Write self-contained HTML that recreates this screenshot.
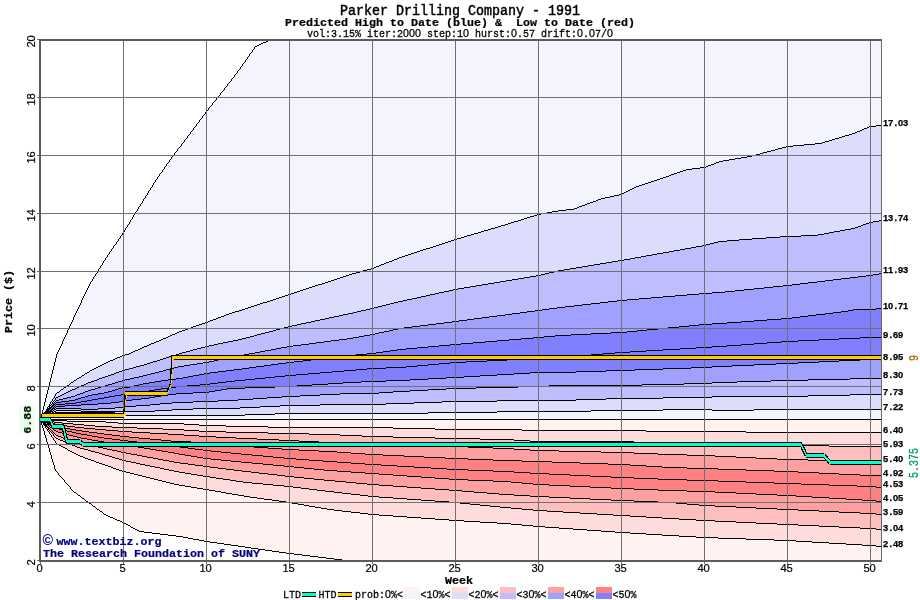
<!DOCTYPE html>
<html><head><meta charset="utf-8"><title>Parker Drilling Company - 1991</title>
<style>html,body{margin:0;padding:0;background:#fff;}body{width:920px;height:600px;overflow:hidden;font-family:"Liberation Mono",monospace;}</style></head>
<body>
<svg width="920" height="600" viewBox="0 0 920 600" style="display:block;will-change:transform">
<defs><clipPath id="cp"><rect x="40" y="40" width="842" height="521"/></clipPath></defs>
<rect width="920" height="600" fill="#fff"/>
<g clip-path="url(#cp)" shape-rendering="crispEdges">
<polygon points="40.0,419.2 56.6,355.0 73.2,318.0 89.8,284.0 106.4,257.0 123.0,232.0 139.6,206.5 156.2,179.5 172.8,156.5 189.4,134.0 206.0,111.5 222.6,91.0 239.2,69.0 255.8,46.3 271.0,39.5 881.5,39.5 881.5,419.2 40.0,419.2" fill="#f4f4ff"/>
<polygon points="40.0,419.2 56.6,393.0 73.2,381.9 89.8,371.0 106.4,362.5 123.0,355.6 127.0,354.0 145.0,346.5 164.5,338.0 180.0,331.5 206.0,322.0 230.0,313.5 240.0,310.0 289.0,294.5 350.0,274.5 372.0,268.7 400.0,257.0 455.0,239.4 506.0,224.0 538.0,214.1 560.0,210.5 572.0,209.6 602.0,198.1 621.0,194.4 637.0,186.0 655.0,180.8 687.0,169.4 704.0,167.3 720.0,161.0 750.0,156.1 787.0,146.4 820.0,143.6 853.0,133.8 870.0,126.2 881.5,125.4 881.5,419.2 40.0,419.2" fill="#dcdcfd"/>
<polygon points="40.0,419.2 56.6,397.5 73.2,389.6 89.8,382.2 106.4,376.0 123.0,370.2 127.0,369.0 145.0,364.2 164.5,358.0 180.0,353.8 206.0,346.7 230.0,341.5 240.0,339.3 289.0,326.3 350.0,313.0 372.0,308.2 400.0,301.0 455.0,289.0 538.0,275.1 560.0,270.4 621.0,260.2 704.0,245.2 720.0,241.7 745.0,239.5 787.0,236.2 815.0,235.2 853.0,228.0 870.0,222.6 881.5,220.6 881.5,419.2 40.0,419.2" fill="#bebeff"/>
<polygon points="40.0,419.2 56.6,400.5 73.2,396.3 89.8,390.2 106.4,385.0 123.0,380.4 127.0,379.5 145.0,375.2 164.5,370.5 180.0,366.9 206.0,362.2 230.0,357.5 289.0,346.8 350.0,338.0 372.0,334.1 400.0,328.5 455.0,321.5 538.0,310.2 560.0,307.9 621.0,300.4 704.0,293.5 720.0,292.2 787.0,285.2 870.0,275.5 881.5,273.1 881.5,419.2 40.0,419.2" fill="#a0a0ff"/>
<polygon points="40.0,419.2 56.6,402.5 73.2,400.2 89.8,395.5 106.4,392.0 123.0,387.9 127.0,387.0 145.0,383.2 164.5,380.0 180.0,378.1 206.0,373.3 230.0,370.5 289.0,362.7 350.0,355.5 372.0,353.2 400.0,349.6 455.0,344.2 538.0,337.5 560.0,335.2 621.0,332.0 704.0,324.5 720.0,323.0 787.0,318.4 845.0,311.9 855.0,309.0 870.0,309.0 881.5,308.3 881.5,419.2 40.0,419.2" fill="#8080ff"/>
<polygon points="40.0,419.2 56.6,404.5 73.2,403.0 89.8,400.3 106.4,397.5 123.0,394.5 127.0,394.0 145.0,391.0 164.5,388.5 180.0,386.9 206.0,384.2 230.0,381.1 289.0,375.1 350.0,370.5 372.0,368.2 400.0,367.1 455.0,362.1 538.0,358.3 560.0,357.3 621.0,352.9 704.0,347.4 720.0,346.4 787.0,341.5 870.0,337.9 881.5,337.6 881.5,419.2 40.0,419.2" fill="#8080ff"/>
<polygon points="40.0,419.2 56.6,406.5 73.2,405.5 89.8,404.8 106.4,403.0 123.0,401.0 127.0,400.5 145.0,398.2 164.5,395.5 180.0,393.8 206.0,392.6 230.0,388.9 289.0,386.0 350.0,382.5 372.0,381.3 400.0,380.2 455.0,377.1 538.0,372.9 560.0,372.0 621.0,370.0 704.0,367.2 720.0,366.2 787.0,363.0 870.0,359.6 881.5,359.3 881.5,419.2 40.0,419.2" fill="#a0a0ff"/>
<polygon points="40.0,419.2 56.6,408.5 73.2,408.3 89.8,409.0 106.4,408.3 123.0,407.0 127.0,406.2 145.0,405.0 164.5,403.5 180.0,402.5 206.0,401.4 230.0,400.2 289.0,396.4 350.0,393.5 372.0,393.0 400.0,391.0 455.0,388.2 538.0,386.5 560.0,385.5 621.0,385.0 704.0,383.2 720.0,382.7 787.0,380.6 870.0,378.3 881.5,378.1 881.5,419.2 40.0,419.2" fill="#bebeff"/>
<polygon points="40.0,419.2 56.6,410.5 73.2,410.5 89.8,411.2 106.4,411.5 123.0,411.4 127.0,411.2 145.0,411.2 164.5,410.0 180.0,409.4 206.0,408.4 230.0,408.0 289.0,405.2 350.0,404.3 372.0,404.1 400.0,403.1 455.0,401.3 538.0,400.6 560.0,400.3 621.0,398.9 704.0,397.1 720.0,396.2 787.0,396.0 870.0,394.6 881.5,394.6 881.5,419.2 40.0,419.2" fill="#dcdcfd"/>
<polygon points="40.0,419.2 56.6,412.0 73.2,412.5 89.8,412.8 106.4,412.8 123.0,413.0 127.0,415.2 145.0,415.2 164.5,415.2 180.0,415.0 206.0,415.4 230.0,415.1 289.0,413.7 350.0,413.5 372.0,413.6 400.0,413.5 455.0,412.1 538.0,411.5 560.0,411.2 621.0,410.9 704.0,409.9 720.0,410.3 787.0,409.7 870.0,409.5 881.5,409.4 881.5,419.2 40.0,419.2" fill="#f4f4ff"/>
<polygon points="40.0,419.5 55.8,470.2 73.5,491.0 88.1,502.5 106.8,515.0 123.5,522.9 139.1,531.7 180.0,536.7 206.0,541.1 289.0,553.5 346.3,560.5 881.5,560.5 881.5,419.5 40.0,419.5" fill="#fff2f0"/>
<polygon points="40.0,419.5 56.6,443.7 78.0,455.2 100.0,463.1 123.0,471.3 176.0,484.1 206.0,489.5 246.0,496.8 289.0,502.9 329.0,509.6 372.0,514.5 455.0,520.2 505.0,523.4 538.0,526.9 621.0,532.2 670.0,535.3 704.0,537.4 787.0,540.0 870.0,545.0 881.5,546.5 881.5,419.5 40.0,419.5" fill="#ffdcdc"/>
<polygon points="40.0,419.5 56.6,438.0 78.0,447.5 100.0,453.9 123.0,460.4 176.0,471.8 206.0,476.5 246.0,482.7 289.0,486.3 329.0,491.4 372.0,496.3 455.0,502.9 505.0,507.4 538.0,510.7 621.0,515.9 670.0,518.0 704.0,520.9 787.0,524.2 870.0,528.9 881.5,529.8 881.5,419.5 40.0,419.5" fill="#ffbebe"/>
<polygon points="40.0,419.5 56.6,435.0 78.0,443.5 100.0,447.7 123.0,452.6 176.0,462.4 206.0,466.4 246.0,471.8 289.0,476.5 329.0,480.2 372.0,484.0 455.0,490.5 505.0,494.2 538.0,496.6 621.0,500.4 670.0,502.9 704.0,505.0 787.0,509.2 870.0,513.4 881.5,514.4 881.5,419.5 40.0,419.5" fill="#ffa0a0"/>
<polygon points="40.0,419.5 56.6,431.0 78.0,437.5 100.0,441.0 123.0,444.5 176.0,453.8 206.0,458.5 246.0,462.7 289.0,466.3 329.0,470.3 372.0,473.9 455.0,479.2 505.0,481.7 538.0,484.3 621.0,488.2 670.0,490.0 704.0,491.2 787.0,495.1 870.0,500.1 881.5,501.0 881.5,419.5 40.0,419.5" fill="#ff8080"/>
<polygon points="40.0,419.5 56.6,428.1 78.0,433.0 100.0,437.0 123.0,440.5 176.0,446.8 206.0,450.3 246.0,454.6 289.0,458.5 329.0,461.8 372.0,464.5 455.0,469.4 505.0,471.2 538.0,473.2 621.0,477.0 670.0,479.3 704.0,480.3 787.0,483.0 870.0,486.3 881.5,487.1 881.5,419.5 40.0,419.5" fill="#ff8080"/>
<polygon points="40.0,419.5 56.6,426.2 78.0,430.0 100.0,433.0 123.0,436.5 176.0,441.3 206.0,442.7 246.0,446.4 289.0,449.1 329.0,451.5 372.0,454.2 455.0,458.4 505.0,460.1 538.0,461.2 621.0,464.7 670.0,467.2 704.0,468.3 787.0,471.4 870.0,475.1 881.5,475.9 881.5,419.5 40.0,419.5" fill="#ffa0a0"/>
<polygon points="40.0,419.5 56.6,424.3 78.0,427.0 100.0,429.0 123.0,431.5 176.0,434.3 206.0,436.3 246.0,438.9 289.0,440.5 329.0,442.1 372.0,443.5 455.0,446.8 505.0,448.8 538.0,450.3 621.0,452.5 670.0,454.2 704.0,455.3 787.0,459.1 870.0,461.5 881.5,462.0 881.5,419.5 40.0,419.5" fill="#ffbebe"/>
<polygon points="40.0,419.5 56.6,422.4 78.0,424.0 100.0,426.0 123.0,427.5 176.0,429.3 206.0,431.5 246.0,432.3 289.0,433.3 329.0,434.7 372.0,436.5 455.0,438.3 505.0,439.3 538.0,441.2 621.0,441.9 670.0,443.0 704.0,443.5 787.0,445.0 870.0,446.2 881.5,446.6 881.5,419.5 40.0,419.5" fill="#ffdcdc"/>
<polygon points="40.0,419.5 56.6,420.5 78.0,421.0 100.0,421.3 123.0,423.0 176.0,423.7 206.0,425.5 246.0,426.2 289.0,427.4 329.0,427.4 372.0,427.2 455.0,429.4 505.0,429.4 538.0,430.1 621.0,430.3 670.0,431.3 704.0,431.5 787.0,432.6 870.0,432.7 881.5,432.7 881.5,419.5 40.0,419.5" fill="#fff2f0"/>
<path transform="translate(0,0.5)" fill="none" stroke="#000" stroke-width="1" d="M266 41h2M263 42h3M261 43h2M259 44h2M257 45h2M255 46h2M254 47h1M254 48h1M253 49h1M252 50h1M252 51h1M251 52h1M250 53h1M249 54h1M249 55h1M248 56h1M247 57h1M247 58h1M246 59h1M245 60h1M245 61h1M244 62h1M243 63h1M242 64h1M242 65h1M241 66h1M240 67h1M240 68h1M239 69h1M238 70h1M237 71h1M237 72h1M236 73h1M235 74h1M234 75h1M234 76h1M233 77h1M232 78h1M231 79h1M231 80h1M230 81h1M229 82h1M228 83h1M227 84h1M227 85h1M226 86h1M225 87h1M224 88h1M224 89h1M223 90h1M222 91h1M221 92h1M220 93h1M220 94h1M219 95h1M218 96h1M217 97h1M216 98h1M216 99h1M215 100h1M214 101h1M213 102h1M212 103h1M212 104h1M211 105h1M210 106h1M209 107h1M208 108h1M208 109h1M207 110h1M206 111h1M205 112h1M205 113h1M204 114h1M203 115h1M202 116h1M202 117h1M201 118h1M200 119h1M199 120h1M199 121h1M198 122h1M197 123h1M196 124h1M196 125h1M876 125h5M195 126h1M869 126h7M194 127h1M867 127h2M193 128h1M864 128h3M193 129h1M862 129h2M192 130h1M860 130h2M191 131h1M857 131h3M190 132h1M855 132h2M190 133h1M852 133h3M189 134h1M849 134h3M188 135h1M845 135h4M187 136h1M842 136h3M187 137h1M839 137h3M186 138h1M835 138h4M185 139h1M832 139h3M184 140h1M829 140h3M184 141h1M825 141h4M183 142h1M822 142h3M182 143h1M815 143h7M181 144h1M804 144h11M181 145h1M793 145h11M180 146h1M786 146h7M179 147h1M782 147h4M178 148h1M778 148h4M177 149h1M775 149h3M177 150h1M771 150h4M176 151h1M767 151h4M175 152h1M763 152h4M174 153h1M760 153h3M174 154h1M756 154h4M173 155h1M752 155h4M172 156h1M747 156h5M171 157h1M741 157h6M171 158h1M735 158h6M170 159h1M729 159h6M169 160h1M723 160h6M169 161h1M719 161h4M168 162h1M716 162h3M167 163h1M714 163h2M166 164h1M711 164h3M166 165h1M708 165h3M165 166h1M706 166h2M164 167h1M700 167h6M164 168h1M692 168h8M163 169h1M686 169h6M162 170h1M683 170h3M162 171h1M680 171h3M161 172h1M677 172h3M160 173h1M674 173h3M159 174h1M671 174h3M159 175h1M669 175h2M158 176h1M666 176h3M157 177h1M663 177h3M157 178h1M660 178h3M156 179h1M657 179h3M155 180h1M654 180h3M155 181h1M651 181h3M154 182h1M648 182h3M153 183h1M645 183h3M153 184h1M642 184h3M152 185h1M639 185h3M152 186h1M636 186h3M151 187h1M634 187h2M150 188h1M632 188h2M150 189h1M630 189h2M149 190h1M628 190h2M148 191h1M626 191h2M148 192h1M624 192h2M147 193h1M622 193h2M147 194h1M619 194h3M146 195h1M614 195h5M145 196h1M610 196h4M145 197h1M605 197h5M144 198h1M601 198h4M143 199h1M598 199h3M143 200h1M596 200h2M142 201h1M593 201h3M142 202h1M590 202h3M141 203h1M587 203h3M140 204h1M585 204h2M140 205h1M582 205h3M139 206h1M579 206h3M138 207h1M577 207h2M138 208h1M574 208h3M137 209h1M566 209h8M137 210h1M558 210h8M136 211h1M552 211h6M135 212h1M547 212h5M135 213h1M541 213h6M134 214h1M537 214h4M133 215h1M534 215h3M133 216h1M530 216h4M132 217h1M527 217h3M132 218h1M524 218h3M131 219h1M521 219h3M130 220h1M518 220h3M879 220h2M130 221h1M514 221h4M873 221h6M129 222h1M511 222h3M869 222h4M129 223h1M508 223h3M866 223h3M128 224h1M505 224h3M863 224h3M127 225h1M501 225h4M861 225h2M127 226h1M498 226h3M858 226h3M126 227h1M495 227h3M855 227h3M125 228h1M491 228h4M851 228h4M125 229h1M488 229h3M845 229h6M124 230h1M484 230h4M840 230h5M124 231h1M481 231h3M834 231h6M123 232h1M478 232h3M829 232h5M122 233h1M474 233h4M824 233h5M122 234h1M471 234h3M818 234h6M121 235h1M467 235h4M801 235h17M120 236h1M464 236h3M780 236h21M120 237h1M461 237h3M766 237h14M119 238h1M457 238h4M752 238h14M118 239h1M454 239h3M739 239h13M118 240h1M451 240h3M727 240h12M117 241h1M448 241h3M718 241h9M116 242h1M445 242h3M714 242h4M116 243h1M442 243h3M710 243h4M115 244h1M439 244h3M706 244h4M114 245h1M436 245h3M702 245h4M113 246h1M433 246h3M696 246h6M113 247h1M430 247h3M691 247h5M112 248h1M426 248h4M685 248h6M111 249h1M423 249h3M680 249h5M111 250h1M420 250h3M674 250h6M110 251h1M417 251h3M669 251h5M109 252h1M414 252h3M663 252h6M109 253h1M411 253h3M657 253h6M108 254h1M408 254h3M652 254h5M107 255h1M405 255h3M646 255h6M107 256h1M402 256h3M641 256h5M106 257h1M399 257h3M635 257h6M105 258h1M397 258h2M630 258h5M105 259h1M394 259h3M624 259h6M104 260h1M392 260h2M618 260h6M103 261h1M389 261h3M612 261h6M103 262h1M386 262h3M606 262h6M102 263h1M384 263h2M600 263h6M102 264h1M381 264h3M594 264h6M101 265h1M379 265h2M588 265h6M100 266h1M376 266h3M582 266h6M100 267h1M374 267h2M576 267h6M99 268h1M371 268h3M570 268h6M98 269h1M367 269h4M564 269h6M98 270h1M363 270h4M558 270h6M97 271h1M360 271h3M554 271h4M97 272h1M356 272h4M549 272h5M96 273h1M352 273h4M545 273h4M879 273h2M95 274h1M349 274h3M541 274h4M873 274h6M95 275h1M346 275h3M536 275h5M866 275h7M94 276h1M343 276h3M530 276h6M858 276h8M93 277h1M340 277h3M524 277h6M850 277h8M93 278h1M337 278h3M518 278h6M841 278h9M92 279h1M334 279h3M512 279h6M833 279h8M92 280h1M331 280h3M506 280h6M825 280h8M91 281h1M328 281h3M500 281h6M817 281h8M90 282h1M325 282h3M494 282h6M808 282h9M90 283h1M322 283h3M488 283h6M800 283h8M89 284h1M318 284h4M482 284h6M792 284h8M89 285h1M315 285h3M476 285h6M783 285h9M88 286h1M312 286h3M470 286h6M773 286h10M88 287h1M309 287h3M464 287h6M764 287h9M87 288h1M306 288h3M458 288h6M754 288h10M87 289h1M303 289h3M453 289h5M744 289h10M86 290h1M300 290h3M449 290h4M735 290h9M86 291h1M297 291h3M444 291h5M725 291h10M85 292h1M294 292h3M439 292h5M712 292h13M85 293h1M291 293h3M435 293h4M699 293h13M84 294h1M288 294h3M430 294h5M687 294h12M84 295h1M285 295h3M426 295h4M675 295h12M83 296h1M282 296h3M421 296h5M663 296h12M83 297h1M279 297h3M417 297h4M651 297h12M82 298h1M276 298h3M412 298h5M639 298h12M82 299h1M273 299h3M407 299h5M627 299h12M81 300h1M270 300h3M403 300h4M617 300h10M81 301h1M267 301h3M398 301h5M608 301h9M81 302h1M263 302h4M394 302h4M600 302h8M80 303h1M260 303h3M390 303h4M591 303h9M80 304h1M257 304h3M386 304h4M582 304h9M79 305h1M254 305h3M382 305h4M574 305h8M79 306h1M251 306h3M378 306h4M565 306h9M78 307h1M248 307h3M374 307h4M557 307h8M78 308h1M245 308h3M370 308h4M549 308h8M876 308h5M77 309h1M242 309h3M366 309h4M542 309h7M853 309h23M77 310h1M239 310h3M361 310h5M535 310h7M848 310h5M76 311h1M235 311h4M357 311h4M527 311h8M841 311h7M76 312h1M232 312h3M353 312h4M520 312h7M833 312h8M75 313h1M229 313h3M348 313h5M512 313h8M825 313h8M75 314h1M226 314h3M343 314h5M505 314h7M816 314h9M74 315h1M224 315h2M339 315h4M497 315h8M808 315h8M74 316h1M221 316h3M334 316h5M489 316h8M800 316h8M73 317h1M218 317h3M329 317h5M482 317h7M792 317h8M73 318h1M216 318h2M325 318h4M474 318h8M781 318h11M73 319h1M213 319h3M320 319h5M467 319h7M767 319h14M72 320h1M210 320h3M315 320h5M459 320h8M754 320h13M72 321h1M208 321h2M311 321h4M452 321h7M741 321h13M71 322h1M205 322h3M306 322h5M444 322h8M727 322h14M71 323h1M202 323h3M301 323h5M436 323h8M712 323h15M70 324h1M199 324h3M297 324h4M428 324h8M699 324h13M70 325h1M196 325h3M292 325h5M420 325h8M689 325h10M69 326h1M193 326h3M288 326h4M412 326h8M679 326h10M69 327h1M191 327h2M284 327h4M404 327h8M668 327h11M68 328h1M188 328h3M280 328h4M398 328h6M658 328h10M68 329h1M185 329h3M276 329h4M393 329h5M647 329h11M67 330h1M182 330h3M273 330h3M389 330h4M637 330h10M67 331h1M179 331h3M269 331h4M384 331h5M627 331h10M67 332h1M177 332h2M265 332h4M379 332h5M611 332h16M66 333h1M175 333h2M261 333h4M375 333h4M591 333h20M66 334h1M172 334h3M257 334h4M370 334h5M571 334h20M65 335h1M170 335h2M254 335h3M364 335h6M555 335h16M65 336h1M168 336h2M250 336h4M359 336h5M544 336h11M64 337h1M166 337h2M246 337h4M353 337h6M533 337h11M860 337h21M64 338h1M163 338h3M242 338h4M347 338h6M521 338h12M839 338h21M63 339h1M161 339h2M238 339h4M339 339h8M509 339h12M819 339h20M63 340h1M159 340h2M233 340h5M331 340h8M497 340h12M798 340h21M62 341h1M156 341h3M228 341h5M324 341h7M485 341h12M781 341h17M62 342h1M154 342h2M223 342h5M316 342h8M473 342h12M767 342h14M62 343h1M151 343h3M218 343h5M309 343h7M461 343h12M754 343h13M61 344h1M149 344h2M214 344h4M301 344h8M450 344h11M741 344h13M61 345h1M147 345h2M209 345h5M293 345h8M439 345h11M727 345h14M60 346h1M144 346h3M205 346h4M287 346h6M428 346h11M712 346h15M60 347h1M142 347h2M201 347h4M281 347h6M417 347h11M696 347h16M59 348h1M140 348h2M197 348h4M276 348h5M406 348h11M680 348h16M59 349h1M138 349h2M193 349h4M271 349h5M397 349h9M663 349h17M58 350h1M135 350h3M190 350h3M265 350h6M390 350h7M646 350h17M58 351h1M133 351h2M186 351h4M260 351h5M383 351h7M630 351h16M57 352h1M131 352h2M182 352h4M255 352h5M376 352h7M615 352h15M57 353h1M129 353h2M179 353h3M249 353h6M367 353h9M603 353h12M56 354h1M125 354h4M176 354h3M244 354h5M356 354h11M591 354h12M56 355h1M122 355h3M172 355h4M239 355h5M346 355h10M579 355h12M56 356h1M120 356h2M169 356h3M233 356h6M337 356h9M567 356h12M56 357h1M117 357h3M166 357h3M228 357h5M329 357h8M549 357h18M55 358h1M115 358h2M163 358h3M223 358h5M320 358h9M528 358h21M55 359h1M113 359h2M160 359h3M218 359h5M311 359h9M507 359h21M860 359h21M55 360h1M110 360h3M157 360h3M214 360h4M303 360h8M487 360h20M839 360h21M55 361h1M108 361h2M153 361h4M209 361h5M294 361h9M466 361h21M819 361h20M54 362h1M106 362h2M150 362h3M203 362h6M286 362h8M450 362h16M798 362h21M54 363h1M104 363h2M147 363h3M197 363h6M278 363h8M439 363h11M776 363h22M54 364h1M102 364h2M144 364h3M190 364h7M271 364h7M428 364h11M754 364h22M54 365h1M100 365h2M140 365h4M184 365h6M264 365h7M417 365h11M732 365h22M53 366h1M98 366h2M136 366h4M178 366h6M256 366h8M406 366h11M712 366h20M53 367h1M96 367h2M133 367h3M174 367h4M249 367h7M386 367h20M691 367h21M53 368h1M94 368h2M129 368h4M170 368h4M242 368h7M367 368h19M663 368h28M53 369h1M92 369h2M125 369h4M166 369h4M234 369h8M356 369h11M635 369h28M52 370h1M90 370h2M122 370h3M163 370h3M226 370h8M344 370h12M606 370h29M52 371h1M89 371h1M119 371h3M159 371h4M218 371h8M332 371h12M576 371h30M52 372h1M87 372h2M116 372h3M155 372h4M210 372h8M320 372h12M530 372h46M52 373h1M85 373h2M114 373h2M151 373h4M204 373h6M308 373h12M514 373h16M51 374h1M84 374h1M111 374h3M147 374h4M199 374h5M296 374h12M497 374h17M51 375h1M82 375h2M108 375h3M143 375h4M193 375h6M285 375h11M480 375h17M51 376h1M81 376h1M105 376h3M139 376h4M188 376h5M275 376h10M464 376h16M51 377h1M79 377h2M102 377h3M134 377h5M183 377h5M265 377h10M446 377h18M50 378h1M77 378h2M99 378h3M130 378h4M176 378h7M255 378h10M428 378h18M850 378h31M50 379h1M76 379h1M97 379h2M125 379h5M168 379h8M245 379h10M410 379h18M808 379h42M50 380h1M74 380h2M94 380h3M122 380h3M161 380h7M235 380h10M386 380h24M771 380h37M50 381h1M73 381h1M91 381h3M118 381h4M155 381h6M226 381h9M361 381h25M737 381h34M49 382h1M71 382h2M88 382h3M115 382h3M149 382h6M218 382h8M343 382h18M712 382h25M49 383h1M70 383h1M86 383h2M112 383h3M143 383h6M210 383h8M328 383h15M684 383h28M49 384h1M69 384h1M84 384h2M108 384h4M139 384h4M200 384h10M312 384h16M642 384h42M49 385h1M67 385h2M81 385h3M105 385h3M134 385h5M187 385h13M297 385h15M549 385h93M48 386h1M66 386h1M79 386h2M101 386h4M130 386h4M176 386h11M275 386h22M518 386h31M48 387h1M64 387h2M77 387h2M98 387h3M122 387h8M168 387h8M245 387h30M476 387h42M48 388h1M63 388h1M75 388h2M95 388h3M118 388h4M161 388h7M227 388h18M446 388h30M48 389h1M61 389h2M72 389h3M91 389h4M115 389h3M155 389h6M221 389h6M428 389h18M47 390h1M60 390h1M70 390h2M88 390h3M112 390h3M149 390h6M215 390h6M410 390h18M47 391h1M59 391h1M68 391h2M85 391h3M108 391h4M142 391h7M209 391h6M393 391h17M47 392h1M57 392h2M66 392h2M83 392h2M104 392h4M136 392h6M193 392h16M379 392h14M47 393h1M56 393h1M64 393h2M80 393h3M98 393h6M130 393h6M176 393h17M340 393h39M46 394h1M55 394h1M62 394h2M77 394h3M92 394h6M121 394h9M168 394h8M320 394h20M850 394h31M46 395h1M55 395h1M60 395h2M75 395h2M88 395h4M115 395h6M161 395h7M300 395h20M808 395h42M46 396h1M54 396h1M58 396h2M71 396h4M85 396h3M109 396h6M155 396h6M282 396h18M712 396h96M46 397h1M54 397h1M56 397h2M67 397h4M81 397h4M104 397h5M149 397h6M267 397h15M663 397h49M45 398h1M53 398h1M55 398h1M63 398h4M78 398h3M98 398h6M141 398h8M253 398h14M606 398h57M45 399h1M52 399h1M55 399h1M59 399h4M75 399h3M92 399h6M132 399h9M238 399h15M576 399h30M45 400h1M52 400h1M54 400h1M56 400h3M69 400h6M87 400h5M125 400h7M218 400h20M497 400h79M45 401h1M51 401h1M53 401h1M55 401h1M61 401h8M81 401h6M119 401h6M193 401h25M442 401h55M44 402h1M50 402h1M52 402h1M54 402h1M56 402h5M76 402h5M111 402h8M172 402h21M414 402h28M44 403h1M50 403h1M52 403h2M55 403h1M65 403h11M98 403h13M160 403h12M386 403h28M44 404h1M49 404h1M51 404h1M53 404h2M56 404h9M81 404h17M150 404h10M320 404h66M44 405h1M49 405h2M52 405h2M55 405h1M65 405h16M136 405h14M280 405h40M43 406h1M48 406h2M51 406h2M54 406h1M56 406h9M125 406h11M260 406h20M43 407h1M47 407h1M49 407h3M53 407h1M55 407h1M115 407h10M240 407h20M43 408h1M47 408h4M52 408h3M56 408h25M98 408h17M193 408h47M43 409h1M46 409h4M51 409h2M54 409h2M81 409h17M172 409h21M663 409h49M754 409h127M42 410h1M46 410h3M50 410h2M53 410h1M56 410h25M155 410h17M591 410h72M712 410h42M42 411h1M45 411h8M54 411h2M81 411h74M497 411h94M42 412h1M44 412h7M52 412h2M55 412h60M428 412h69M42 413h1M44 413h8M53 413h2M115 413h9M275 413h153M41 414h1M43 414h7M51 414h2M124 414h2M245 414h30M41 415h10M126 415h119M41 416h7M41 417h5M41 418h3M41 419h840M41 420h26M41 421h13M67 421h39M41 422h11M54 422h8M106 422h12M41 423h1M43 423h3M47 423h4M52 423h3M62 423h11M118 423h66M41 424h1M43 424h7M51 424h2M55 424h5M73 424h11M184 424h15M42 425h1M44 425h3M48 425h1M50 425h2M53 425h2M60 425h7M84 425h11M199 425h27M42 426h1M45 426h3M49 426h1M52 426h2M55 426h4M67 426h8M95 426h17M226 426h42M42 427h1M45 427h1M47 427h2M50 427h2M54 427h2M59 427h6M75 427h9M112 427h25M268 427h125M43 428h1M46 428h1M48 428h2M52 428h1M56 428h3M65 428h5M84 428h11M137 428h26M393 428h42M43 429h1M47 429h2M50 429h1M53 429h1M59 429h4M70 429h6M95 429h11M163 429h21M435 429h87M43 430h1M47 430h1M49 430h1M51 430h1M54 430h2M63 430h4M76 430h6M106 430h12M184 430h15M522 430h124M44 431h1M48 431h1M50 431h1M52 431h1M56 431h2M67 431h5M82 431h7M118 431h14M199 431h27M646 431h100M44 432h1M49 432h1M51 432h1M53 432h1M58 432h4M72 432h4M89 432h8M132 432h18M226 432h42M746 432h135M44 433h1M49 433h1M52 433h1M54 433h1M62 433h4M76 433h5M97 433h7M150 433h18M268 433h41M44 434h1M50 434h1M53 434h1M55 434h1M66 434h3M81 434h6M104 434h8M168 434h16M309 434h31M45 435h1M51 435h1M53 435h1M56 435h2M69 435h4M87 435h5M112 435h8M184 435h15M340 435h22M45 436h1M51 436h1M54 436h1M58 436h3M73 436h4M92 436h6M120 436h9M199 436h17M362 436h31M45 437h1M52 437h1M55 437h1M61 437h2M77 437h4M98 437h6M129 437h10M216 437h20M393 437h42M46 438h1M53 438h1M56 438h2M63 438h3M81 438h6M104 438h8M139 438h11M236 438h21M435 438h45M46 439h1M53 439h1M58 439h2M66 439h3M87 439h5M112 439h8M150 439h11M257 439h22M480 439h34M46 440h1M54 440h1M60 440h3M69 440h3M92 440h6M120 440h8M161 440h10M279 440h20M514 440h16M46 441h1M55 441h1M63 441h2M72 441h2M98 441h6M128 441h9M171 441h20M299 441h20M530 441h104M47 442h1M55 442h1M65 442h2M74 442h3M104 442h8M137 442h9M191 442h20M319 442h32M634 442h24M47 443h1M56 443h1M67 443h3M77 443h4M112 443h8M146 443h8M211 443h10M351 443h35M658 443h67M47 444h1M57 444h2M70 444h2M81 444h6M120 444h6M154 444h9M221 444h10M386 444h28M725 444h42M48 445h1M59 445h2M72 445h3M87 445h5M126 445h6M163 445h9M231 445h10M414 445h28M767 445h62M48 446h1M61 446h2M75 446h2M92 446h6M132 446h6M172 446h8M241 446h13M442 446h26M829 446h52M48 447h1M63 447h2M77 447h3M98 447h5M138 447h6M180 447h8M254 447h14M468 447h25M49 448h1M65 448h2M80 448h4M103 448h4M144 448h6M188 448h7M268 448h14M493 448h21M49 449h1M67 449h1M84 449h4M107 449h5M150 449h6M195 449h8M282 449h17M514 449h16M49 450h1M68 450h2M88 450h3M112 450h5M156 450h6M203 450h8M299 450h20M530 450h29M49 451h1M70 451h2M91 451h4M117 451h4M162 451h6M211 451h10M319 451h18M559 451h42M50 452h1M72 452h2M95 452h4M121 452h5M168 452h6M221 452h10M337 452h14M601 452h33M50 453h1M74 453h2M99 453h3M126 453h5M174 453h5M231 453h10M351 453h14M634 453h24M50 454h1M76 454h2M102 454h3M131 454h6M179 454h6M241 454h11M365 454h18M658 454h29M51 455h1M78 455h2M105 455h4M137 455h5M185 455h6M252 455h11M383 455h21M687 455h28M51 456h1M80 456h3M109 456h3M142 456h5M191 456h6M263 456h10M404 456h20M715 456h21M51 457h1M83 457h2M112 457h3M147 457h6M197 457h6M273 457h11M424 457h21M736 457h20M51 458h1M85 458h3M115 458h4M153 458h5M203 458h8M284 458h12M445 458h23M756 458h21M52 459h1M88 459h3M119 459h3M158 459h5M211 459h10M296 459h13M468 459h25M777 459h31M52 460h1M91 460h3M122 460h4M163 460h6M221 460h10M309 460h14M493 460h29M808 460h42M52 461h1M94 461h2M126 461h5M169 461h5M231 461h10M323 461h14M522 461h30M850 461h26M53 462h1M96 462h3M131 462h5M174 462h6M241 462h11M337 462h14M552 462h28M876 462h5M53 463h1M99 463h3M136 463h4M180 463h8M252 463h11M351 463h14M580 463h28M53 464h1M102 464h3M140 464h5M188 464h7M263 464h10M365 464h16M608 464h22M54 465h1M105 465h3M145 465h5M195 465h8M273 465h11M381 465h16M630 465h16M54 466h1M108 466h3M150 466h5M203 466h7M284 466h10M397 466h17M646 466h16M54 467h1M111 467h2M155 467h5M210 467h8M294 467h10M414 467h17M662 467h25M54 468h1M113 468h3M160 468h4M218 468h8M304 468h10M431 468h16M687 468h31M55 469h1M116 469h3M164 469h5M226 469h8M314 469h10M447 469h21M718 469h28M55 470h1M119 470h3M169 470h5M234 470h8M324 470h13M468 470h25M746 470h28M56 471h1M122 471h4M174 471h5M242 471h9M337 471h14M493 471h21M774 471h24M57 472h1M126 472h4M179 472h6M251 472h8M351 472h14M514 472h16M798 472h21M58 473h1M130 473h4M185 473h6M259 473h9M365 473h14M530 473h19M819 473h20M58 474h1M134 474h4M191 474h6M268 474h9M379 474h14M549 474h21M839 474h21M59 475h1M138 475h4M197 475h6M277 475h8M393 475h14M570 475h20M860 475h21M60 476h1M142 476h4M203 476h7M285 476h9M407 476h14M590 476h21M61 477h1M146 477h4M210 477h6M294 477h10M421 477h14M611 477h23M62 478h1M150 478h4M216 478h7M304 478h10M435 478h14M634 478h24M63 479h1M154 479h4M223 479h7M314 479h10M449 479h19M658 479h29M64 480h1M158 480h4M230 480h6M324 480h11M468 480h25M687 480h31M64 481h1M162 481h4M236 481h7M335 481h11M493 481h18M718 481h28M65 482h1M166 482h4M243 482h9M346 482h10M511 482h11M746 482h28M66 483h1M170 483h4M252 483h11M356 483h11M522 483h11M774 483h27M67 484h1M174 484h5M263 484h10M367 484h12M533 484h16M801 484h28M68 485h1M179 485h6M273 485h11M379 485h14M549 485h21M829 485h28M69 486h1M185 486h6M284 486h9M393 486h14M570 486h20M857 486h19M70 487h1M191 487h6M293 487h8M407 487h14M590 487h21M876 487h5M70 488h1M197 488h6M301 488h8M421 488h14M611 488h23M71 489h1M203 489h6M309 489h8M435 489h14M634 489h24M72 490h1M209 490h6M317 490h8M449 490h13M658 490h29M73 491h1M215 491h6M325 491h9M462 491h12M687 491h28M74 492h2M221 492h5M334 492h8M474 492h13M715 492h21M76 493h1M226 493h6M342 493h9M487 493h12M736 493h20M77 494h1M232 494h6M351 494h9M499 494h15M756 494h21M78 495h2M238 495h6M360 495h8M514 495h16M777 495h19M80 496h1M244 496h6M368 496h11M530 496h19M796 496h16M81 497h1M250 497h7M379 497h14M549 497h21M812 497h17M82 498h2M257 498h7M393 498h14M570 498h20M829 498h17M84 499h1M264 499h8M407 499h14M590 499h21M846 499h16M85 500h1M272 500h7M421 500h14M611 500h23M862 500h14M86 501h2M279 501h7M435 501h14M634 501h24M876 501h5M88 502h1M286 502h6M449 502h11M658 502h18M89 503h2M292 503h6M460 503h10M676 503h11M91 504h1M298 504h6M470 504h10M687 504h12M92 505h1M304 505h5M480 505h10M699 505h16M93 506h2M309 506h6M490 506h10M715 506h21M95 507h1M315 507h6M500 507h11M736 507h20M96 508h1M321 508h6M511 508h11M756 508h21M97 509h2M327 509h7M522 509h11M777 509h21M99 510h1M334 510h8M533 510h14M798 510h21M100 511h2M342 511h9M547 511h16M819 511h20M102 512h1M351 512h9M563 512h17M839 512h21M103 513h1M360 513h8M580 513h17M860 513h16M104 514h2M368 514h11M597 514h16M876 514h5M106 515h2M379 515h14M613 515h17M108 516h2M393 516h14M630 516h16M110 517h3M407 517h14M646 517h16M113 518h2M421 518h14M662 518h17M115 519h2M435 519h14M679 519h17M117 520h3M449 520h15M696 520h19M120 521h2M464 521h16M715 521h21M122 522h2M480 522h17M736 522h20M124 523h2M497 523h14M756 523h21M126 524h2M511 524h11M777 524h21M128 525h2M522 525h11M798 525h21M130 526h1M533 526h12M819 526h20M131 527h2M545 527h14M839 527h21M133 528h2M559 528h14M860 528h16M135 529h2M573 529h14M876 529h5M137 530h2M587 530h14M139 531h5M601 531h14M144 532h8M615 532h15M152 533h8M630 533h16M160 534h8M646 534h16M168 535h8M662 535h17M176 536h7M679 536h17M183 537h5M696 537h22M188 538h5M718 538h28M193 539h6M746 539h28M199 540h5M774 540h22M204 541h6M796 541h16M210 542h7M812 542h17M217 543h7M829 543h17M224 544h7M846 544h16M231 545h7M862 545h14M238 546h7M876 546h5M245 547h6M251 548h7M258 549h7M265 550h7M272 551h7M279 552h7M286 553h8M294 554h8M302 555h8M310 556h8M318 557h8M326 558h8M334 559h8"/>
</g>
</g>
<g shape-rendering="crispEdges" stroke="#707070" stroke-width="1">
<line x1="123.5" y1="40" x2="123.5" y2="564"/>
<line x1="206.5" y1="40" x2="206.5" y2="564"/>
<line x1="289.5" y1="40" x2="289.5" y2="564"/>
<line x1="372.5" y1="40" x2="372.5" y2="564"/>
<line x1="455.5" y1="40" x2="455.5" y2="564"/>
<line x1="538.5" y1="40" x2="538.5" y2="564"/>
<line x1="621.5" y1="40" x2="621.5" y2="564"/>
<line x1="704.5" y1="40" x2="704.5" y2="564"/>
<line x1="787.5" y1="40" x2="787.5" y2="564"/>
<line x1="870.5" y1="40" x2="870.5" y2="564"/>
<line x1="37" y1="97.5" x2="881" y2="97.5"/>
<line x1="37" y1="155.5" x2="881" y2="155.5"/>
<line x1="37" y1="213.5" x2="881" y2="213.5"/>
<line x1="37" y1="271.5" x2="881" y2="271.5"/>
<line x1="37" y1="328.5" x2="881" y2="328.5"/>
<line x1="37" y1="386.5" x2="881" y2="386.5"/>
<line x1="37" y1="444.5" x2="881" y2="444.5"/>
<line x1="37" y1="502.5" x2="881" y2="502.5"/>
</g>
<g shape-rendering="crispEdges" fill="#5c5c5c">
<rect x="39" y="39" width="843" height="2"/>
<rect x="39" y="39" width="2" height="523"/>
<rect x="39" y="560" width="843" height="2"/>
<rect x="881" y="39" width="1" height="523" fill="#6a6a6a"/>
<rect x="37" y="39" width="2" height="1" fill="#707070"/>
<rect x="37" y="560" width="2" height="1" fill="#707070"/>
<rect x="40" y="562" width="1" height="2" fill="#707070"/>
</g>
<g shape-rendering="crispEdges">
<rect x="41.5" y="413.0" width="82.7" height="5" fill="#000"/>
<rect x="124.8" y="391.0" width="42.2" height="5" fill="#000"/>
<rect x="171.3" y="355.0" width="709.7" height="5" fill="#000"/>
<line x1="123.7" y1="415.5" x2="125.3" y2="393.5" stroke="#000" stroke-width="1.3"/>
<line x1="124.9" y1="415.5" x2="126.5" y2="393.5" stroke="#ffcc00" stroke-width="1.3" stroke-dasharray="3,3"/>
<line x1="166.5" y1="393.5" x2="170.4" y2="383.5" stroke="#000" stroke-width="1.3"/>
<line x1="167.7" y1="393.5" x2="171.6" y2="383.5" stroke="#ffcc00" stroke-width="1.3" stroke-dasharray="3,3"/>
<line x1="170.4" y1="383.5" x2="171.8" y2="357.5" stroke="#000" stroke-width="1.3"/>
<line x1="171.6" y1="383.5" x2="173.0" y2="357.5" stroke="#ffcc00" stroke-width="1.3" stroke-dasharray="3,3"/>
<rect x="42.0" y="414.0" width="81.7" height="3" fill="#ffcc00"/>
<rect x="125.3" y="392.0" width="41.2" height="3" fill="#ffcc00"/>
<rect x="171.8" y="356.0" width="709.2" height="3" fill="#ffcc00"/>
<rect x="39.5" y="417.0" width="11.0" height="5" fill="#000"/>
<rect x="52.8" y="424.0" width="10.9" height="5" fill="#000"/>
<rect x="66.1" y="439.0" width="14.2" height="5" fill="#000"/>
<rect x="82.7" y="442.0" width="718.9" height="5" fill="#000"/>
<rect x="805.9" y="453.0" width="18.3" height="5" fill="#000"/>
<rect x="829.9" y="460.0" width="51.1" height="5" fill="#000"/>
<line x1="50.0" y1="419.5" x2="53.3" y2="426.5" stroke="#000" stroke-width="3.6"/>
<line x1="50.0" y1="419.5" x2="53.3" y2="426.5" stroke="#00ffcc" stroke-width="1.6"/>
<line x1="63.2" y1="426.5" x2="66.6" y2="441.5" stroke="#000" stroke-width="3.6"/>
<line x1="63.2" y1="426.5" x2="66.6" y2="441.5" stroke="#00ffcc" stroke-width="1.6"/>
<line x1="79.8" y1="441.5" x2="83.2" y2="444.5" stroke="#000" stroke-width="4.2"/>
<line x1="79.8" y1="441.5" x2="83.2" y2="444.5" stroke="#00ffcc" stroke-width="2.2"/>
<line x1="801.1" y1="444.5" x2="806.4" y2="455.5" stroke="#000" stroke-width="3.6"/>
<line x1="801.1" y1="444.5" x2="806.4" y2="455.5" stroke="#00ffcc" stroke-width="1.6"/>
<line x1="823.7" y1="455.5" x2="830.4" y2="462.5" stroke="#000" stroke-width="4.2"/>
<line x1="823.7" y1="455.5" x2="830.4" y2="462.5" stroke="#00ffcc" stroke-width="2.2"/>
<rect x="40.0" y="418.0" width="10.0" height="3" fill="#00ffcc"/>
<rect x="53.3" y="425.0" width="9.9" height="3" fill="#00ffcc"/>
<rect x="66.6" y="440.0" width="13.2" height="3" fill="#00ffcc"/>
<rect x="83.2" y="443.0" width="717.9" height="3" fill="#00ffcc"/>
<rect x="806.4" y="454.0" width="17.3" height="3" fill="#00ffcc"/>
<rect x="830.4" y="461.0" width="50.6" height="3" fill="#00ffcc"/>
</g>
<g font-family="'Liberation Mono', monospace">
<text x="340.0" y="15.0" font-size="15.4" textLength="240.0" lengthAdjust="spacingAndGlyphs" xml:space="preserve" fill="#000" stroke="#000" stroke-width="0.50" >Parker Drilling Company - 1991</text>
<text x="285.0" y="25.7" font-size="11.7" textLength="350.0" lengthAdjust="spacingAndGlyphs" xml:space="preserve" fill="#000" font-weight="bold" stroke="#000" stroke-width="0.22" >Predicted High to Date (blue) &amp;  Low to Date (red)</text>
<text x="307.0" y="36.5" font-size="11.6" textLength="306.0" lengthAdjust="spacingAndGlyphs" xml:space="preserve" fill="#000" stroke="#000" stroke-width="0.30" >vol:3.15% iter:2    step:1  hurst: .57 drift: . 7/ </text><text x="406.0 412.0 418.0 466.0 514.0 580.0 592.0 610.0" y="36.5" font-family="'Liberation Sans', sans-serif" font-size="10.6" text-anchor="middle" fill="#000" stroke="#000" stroke-width="0.25">00000000</text>
<text x="39.7" y="571.8" font-family="'Liberation Sans', sans-serif" font-size="11.2" text-anchor="middle" fill="#000" stroke="#000" stroke-width="0.20">0</text>
<text x="122.7" y="571.8" font-family="'Liberation Sans', sans-serif" font-size="11.2" text-anchor="middle" fill="#000" stroke="#000" stroke-width="0.20">5</text>
<text x="202.7 208.7" y="571.8" font-family="'Liberation Sans', sans-serif" font-size="11.2" text-anchor="middle" fill="#000" stroke="#000" stroke-width="0.20">10</text>
<text x="285.7 291.7" y="571.8" font-family="'Liberation Sans', sans-serif" font-size="11.2" text-anchor="middle" fill="#000" stroke="#000" stroke-width="0.20">15</text>
<text x="368.7 374.7" y="571.8" font-family="'Liberation Sans', sans-serif" font-size="11.2" text-anchor="middle" fill="#000" stroke="#000" stroke-width="0.20">20</text>
<text x="451.7 457.7" y="571.8" font-family="'Liberation Sans', sans-serif" font-size="11.2" text-anchor="middle" fill="#000" stroke="#000" stroke-width="0.20">25</text>
<text x="534.7 540.7" y="571.8" font-family="'Liberation Sans', sans-serif" font-size="11.2" text-anchor="middle" fill="#000" stroke="#000" stroke-width="0.20">30</text>
<text x="617.7 623.7" y="571.8" font-family="'Liberation Sans', sans-serif" font-size="11.2" text-anchor="middle" fill="#000" stroke="#000" stroke-width="0.20">35</text>
<text x="700.7 706.7" y="571.8" font-family="'Liberation Sans', sans-serif" font-size="11.2" text-anchor="middle" fill="#000" stroke="#000" stroke-width="0.20">40</text>
<text x="783.7 789.7" y="571.8" font-family="'Liberation Sans', sans-serif" font-size="11.2" text-anchor="middle" fill="#000" stroke="#000" stroke-width="0.20">45</text>
<text x="866.7 872.7" y="571.8" font-family="'Liberation Sans', sans-serif" font-size="11.2" text-anchor="middle" fill="#000" stroke="#000" stroke-width="0.20">50</text>
<text x="445.0" y="584.4" font-size="11.7" textLength="28.0" lengthAdjust="spacingAndGlyphs" xml:space="preserve" fill="#000" font-weight="bold" stroke="#000" stroke-width="0.22" >Week</text>
<g transform="translate(35.3,562.3) rotate(-90)"><text x="0.0" y="0.0" font-family="'Liberation Sans', sans-serif" font-size="11.2" text-anchor="middle" fill="#000" stroke="#000" stroke-width="0.20">2</text></g>
<g transform="translate(35.3,504.3) rotate(-90)"><text x="0.0" y="0.0" font-family="'Liberation Sans', sans-serif" font-size="11.2" text-anchor="middle" fill="#000" stroke="#000" stroke-width="0.20">4</text></g>
<g transform="translate(35.3,446.3) rotate(-90)"><text x="0.0" y="0.0" font-family="'Liberation Sans', sans-serif" font-size="11.2" text-anchor="middle" fill="#000" stroke="#000" stroke-width="0.20">6</text></g>
<g transform="translate(35.3,388.3) rotate(-90)"><text x="0.0" y="0.0" font-family="'Liberation Sans', sans-serif" font-size="11.2" text-anchor="middle" fill="#000" stroke="#000" stroke-width="0.20">8</text></g>
<g transform="translate(35.3,330.3) rotate(-90)"><text x="-3.0 3.0" y="0.0" font-family="'Liberation Sans', sans-serif" font-size="11.2" text-anchor="middle" fill="#000" stroke="#000" stroke-width="0.20">10</text></g>
<g transform="translate(35.3,273.3) rotate(-90)"><text x="-3.0 3.0" y="0.0" font-family="'Liberation Sans', sans-serif" font-size="11.2" text-anchor="middle" fill="#000" stroke="#000" stroke-width="0.20">12</text></g>
<g transform="translate(35.3,215.3) rotate(-90)"><text x="-3.0 3.0" y="0.0" font-family="'Liberation Sans', sans-serif" font-size="11.2" text-anchor="middle" fill="#000" stroke="#000" stroke-width="0.20">14</text></g>
<g transform="translate(35.3,157.3) rotate(-90)"><text x="-3.0 3.0" y="0.0" font-family="'Liberation Sans', sans-serif" font-size="11.2" text-anchor="middle" fill="#000" stroke="#000" stroke-width="0.20">16</text></g>
<g transform="translate(35.3,99.3) rotate(-90)"><text x="-3.0 3.0" y="0.0" font-family="'Liberation Sans', sans-serif" font-size="11.2" text-anchor="middle" fill="#000" stroke="#000" stroke-width="0.20">18</text></g>
<g transform="translate(35.3,41.3) rotate(-90)"><text x="-3.0 3.0" y="0.0" font-family="'Liberation Sans', sans-serif" font-size="11.2" text-anchor="middle" fill="#000" stroke="#000" stroke-width="0.20">20</text></g>
<g transform="translate(11.6,301.5) rotate(-90)"><text x="-31.5" y="0.0" font-size="11.7" textLength="63.0" lengthAdjust="spacingAndGlyphs" xml:space="preserve" fill="#000" font-weight="bold" stroke="#000" stroke-width="0.22" >Price ($)</text></g>
<rect x="19" y="406" width="16" height="27" fill="#ecffee" shape-rendering="crispEdges"/>
<g transform="translate(30.9,419.7) rotate(-90)"><text x="-14.0" y="0.0" font-size="11.7" textLength="28.0" lengthAdjust="spacingAndGlyphs" xml:space="preserve" fill="#001800" font-weight="bold" stroke="#001800" stroke-width="0.22" >6.88</text></g>
<g transform="translate(917.8,358) rotate(-90)"><text x="-3.0" y="0.0" font-size="12.0" textLength="6.0" lengthAdjust="spacingAndGlyphs" xml:space="preserve" fill="#a86a00" stroke="#a86a00" stroke-width="0.30" >9</text></g>
<g transform="translate(917.8,463) rotate(-90)"><text x="-15.0" y="0.0" font-size="12.0" textLength="30.0" lengthAdjust="spacingAndGlyphs" xml:space="preserve" fill="#00a060" stroke="#00a060" stroke-width="0.30" >5.375</text></g>
<text x="885.7 890.7 895.7 900.7 905.7" y="125.8" font-family="'Liberation Sans', sans-serif" font-size="9.3" text-anchor="middle" fill="#000" font-weight="bold" stroke="#000" stroke-width="0.25">17.03</text>
<text x="885.7 890.7 895.7 900.7 905.7" y="221.0" font-family="'Liberation Sans', sans-serif" font-size="9.3" text-anchor="middle" fill="#000" font-weight="bold" stroke="#000" stroke-width="0.25">13.74</text>
<text x="885.7 890.7 895.7 900.7 905.7" y="273.4" font-family="'Liberation Sans', sans-serif" font-size="9.3" text-anchor="middle" fill="#000" font-weight="bold" stroke="#000" stroke-width="0.25">11.93</text>
<text x="885.7 890.7 895.7 900.7 905.7" y="308.7" font-family="'Liberation Sans', sans-serif" font-size="9.3" text-anchor="middle" fill="#000" font-weight="bold" stroke="#000" stroke-width="0.25">10.71</text>
<text x="885.7 890.7 895.7 900.7" y="338.2" font-family="'Liberation Sans', sans-serif" font-size="9.3" text-anchor="middle" fill="#000" font-weight="bold" stroke="#000" stroke-width="0.25">9.69</text>
<text x="885.7 890.7 895.7 900.7" y="359.6" font-family="'Liberation Sans', sans-serif" font-size="9.3" text-anchor="middle" fill="#000" font-weight="bold" stroke="#000" stroke-width="0.25">8.95</text>
<text x="885.7 890.7 895.7 900.7" y="378.4" font-family="'Liberation Sans', sans-serif" font-size="9.3" text-anchor="middle" fill="#000" font-weight="bold" stroke="#000" stroke-width="0.25">8.30</text>
<text x="885.7 890.7 895.7 900.7" y="394.9" font-family="'Liberation Sans', sans-serif" font-size="9.3" text-anchor="middle" fill="#000" font-weight="bold" stroke="#000" stroke-width="0.25">7.73</text>
<text x="885.7 890.7 895.7 900.7" y="409.6" font-family="'Liberation Sans', sans-serif" font-size="9.3" text-anchor="middle" fill="#000" font-weight="bold" stroke="#000" stroke-width="0.25">7.22</text>
<text x="885.7 890.7 895.7 900.7" y="433.3" font-family="'Liberation Sans', sans-serif" font-size="9.3" text-anchor="middle" fill="#000" font-weight="bold" stroke="#000" stroke-width="0.25">6.40</text>
<text x="885.7 890.7 895.7 900.7" y="446.9" font-family="'Liberation Sans', sans-serif" font-size="9.3" text-anchor="middle" fill="#000" font-weight="bold" stroke="#000" stroke-width="0.25">5.93</text>
<text x="885.7 890.7 895.7 900.7" y="462.3" font-family="'Liberation Sans', sans-serif" font-size="9.3" text-anchor="middle" fill="#000" font-weight="bold" stroke="#000" stroke-width="0.25">5.40</text>
<text x="885.7 890.7 895.7 900.7" y="476.2" font-family="'Liberation Sans', sans-serif" font-size="9.3" text-anchor="middle" fill="#000" font-weight="bold" stroke="#000" stroke-width="0.25">4.92</text>
<text x="885.7 890.7 895.7 900.7" y="487.4" font-family="'Liberation Sans', sans-serif" font-size="9.3" text-anchor="middle" fill="#000" font-weight="bold" stroke="#000" stroke-width="0.25">4.53</text>
<text x="885.7 890.7 895.7 900.7" y="501.3" font-family="'Liberation Sans', sans-serif" font-size="9.3" text-anchor="middle" fill="#000" font-weight="bold" stroke="#000" stroke-width="0.25">4.05</text>
<text x="885.7 890.7 895.7 900.7" y="514.6" font-family="'Liberation Sans', sans-serif" font-size="9.3" text-anchor="middle" fill="#000" font-weight="bold" stroke="#000" stroke-width="0.25">3.59</text>
<text x="885.7 890.7 895.7 900.7" y="530.6" font-family="'Liberation Sans', sans-serif" font-size="9.3" text-anchor="middle" fill="#000" font-weight="bold" stroke="#000" stroke-width="0.25">3.04</text>
<text x="885.7 890.7 895.7 900.7" y="546.8" font-family="'Liberation Sans', sans-serif" font-size="9.3" text-anchor="middle" fill="#000" font-weight="bold" stroke="#000" stroke-width="0.25">2.48</text>
<text x="42.6" y="545.4" font-family="'Liberation Sans', sans-serif" font-weight="bold" font-size="14.2" fill="#000080">©</text>
<text x="56.5" y="545.3" font-size="11.7" textLength="105.0" lengthAdjust="spacingAndGlyphs" xml:space="preserve" fill="#000080" font-weight="bold" stroke="#000080" stroke-width="0.22" >www.textbiz.org</text>
<text x="43.0" y="557.3" font-size="11.7" textLength="217.0" lengthAdjust="spacingAndGlyphs" xml:space="preserve" fill="#000080" font-weight="bold" stroke="#000080" stroke-width="0.22" >The Research Foundation of SUNY</text>
<text x="283.0" y="598.2" font-size="11.6" textLength="18.0" lengthAdjust="spacingAndGlyphs" xml:space="preserve" fill="#000" stroke="#000" stroke-width="0.30" >LTD</text>
<text x="318.5" y="598.2" font-size="11.6" textLength="18.0" lengthAdjust="spacingAndGlyphs" xml:space="preserve" fill="#000" stroke="#000" stroke-width="0.30" >HTD</text>
<text x="355.0" y="598.2" font-size="11.6" textLength="48.0" lengthAdjust="spacingAndGlyphs" xml:space="preserve" fill="#000" stroke="#000" stroke-width="0.30" >prob: %&lt;</text><text x="388.0" y="598.2" font-family="'Liberation Sans', sans-serif" font-size="10.6" text-anchor="middle" fill="#000" stroke="#000" stroke-width="0.25">0</text>
<text x="420.5" y="598.2" font-size="11.6" textLength="30.0" lengthAdjust="spacingAndGlyphs" xml:space="preserve" fill="#000" stroke="#000" stroke-width="0.30" >&lt;1 %&lt;</text><text x="435.5" y="598.2" font-family="'Liberation Sans', sans-serif" font-size="10.6" text-anchor="middle" fill="#000" stroke="#000" stroke-width="0.25">0</text>
<text x="468.5" y="598.2" font-size="11.6" textLength="30.0" lengthAdjust="spacingAndGlyphs" xml:space="preserve" fill="#000" stroke="#000" stroke-width="0.30" >&lt;2 %&lt;</text><text x="483.5" y="598.2" font-family="'Liberation Sans', sans-serif" font-size="10.6" text-anchor="middle" fill="#000" stroke="#000" stroke-width="0.25">0</text>
<text x="516.5" y="598.2" font-size="11.6" textLength="30.0" lengthAdjust="spacingAndGlyphs" xml:space="preserve" fill="#000" stroke="#000" stroke-width="0.30" >&lt;3 %&lt;</text><text x="531.5" y="598.2" font-family="'Liberation Sans', sans-serif" font-size="10.6" text-anchor="middle" fill="#000" stroke="#000" stroke-width="0.25">0</text>
<text x="564.5" y="598.2" font-size="11.6" textLength="30.0" lengthAdjust="spacingAndGlyphs" xml:space="preserve" fill="#000" stroke="#000" stroke-width="0.30" >&lt;4 %&lt;</text><text x="579.5" y="598.2" font-family="'Liberation Sans', sans-serif" font-size="10.6" text-anchor="middle" fill="#000" stroke="#000" stroke-width="0.25">0</text>
<text x="612.5" y="598.2" font-size="11.6" textLength="24.0" lengthAdjust="spacingAndGlyphs" xml:space="preserve" fill="#000" stroke="#000" stroke-width="0.30" >&lt;5 %</text><text x="627.5" y="598.2" font-family="'Liberation Sans', sans-serif" font-size="10.6" text-anchor="middle" fill="#000" stroke="#000" stroke-width="0.25">0</text>
</g>
<g shape-rendering="crispEdges">
<rect x="302" y="592" width="14" height="5" fill="#000"/><rect x="302" y="593" width="14" height="3" fill="#00ffcc"/>
<rect x="338" y="592" width="14" height="5" fill="#000"/><rect x="338" y="593" width="14" height="3" fill="#ffcc00"/>
<rect x="404" y="587" width="16" height="6" fill="#fff2f0"/>
<rect x="404" y="593" width="16" height="6" fill="#f4f4ff"/>
<rect x="452" y="587" width="16" height="6" fill="#ffdcdc"/>
<rect x="452" y="593" width="16" height="6" fill="#dcdcfd"/>
<rect x="500" y="587" width="16" height="6" fill="#ffbebe"/>
<rect x="500" y="593" width="16" height="6" fill="#bebeff"/>
<rect x="548" y="587" width="16" height="6" fill="#ffa0a0"/>
<rect x="548" y="593" width="16" height="6" fill="#a0a0ff"/>
<rect x="596" y="587" width="16" height="6" fill="#ff8080"/>
<rect x="596" y="593" width="16" height="6" fill="#8080ff"/>
</g>
</svg>
</body></html>
